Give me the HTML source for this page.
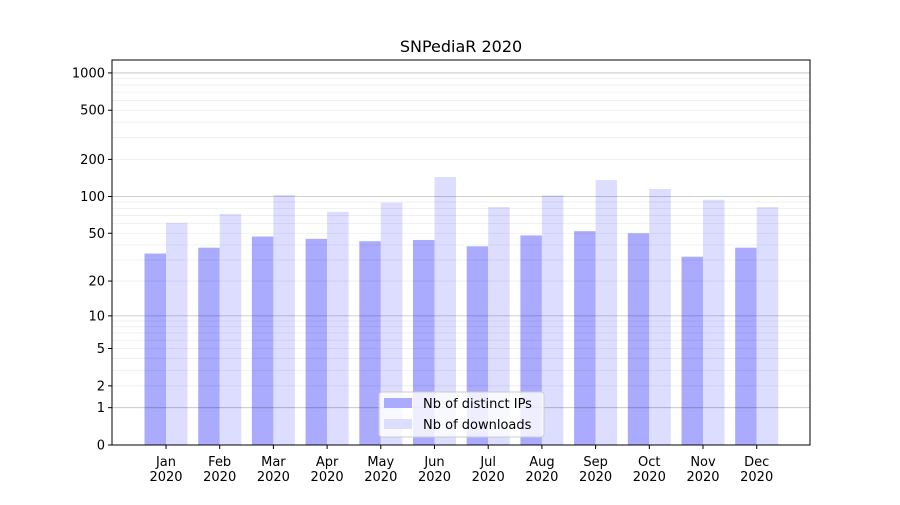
<!DOCTYPE html>
<html><head><meta charset="utf-8"><style>
body{margin:0;background:#fff;font-family:"Liberation Sans","DejaVu Sans",sans-serif;}
svg text{font-family:"DejaVu Sans","Liberation Sans",sans-serif;}
</style></head><body>
<svg id="chart" width="900" height="500" xmlns="http://www.w3.org/2000/svg">
<rect width="900" height="500" fill="#fff"/>
<text x="461" y="52" text-anchor="middle" font-size="16" fill="#000">SNPediaR 2020</text>
<g id="bars"></g><g id="grid"></g><g id="axes"></g>
</svg>
<script>
const months=["Jan","Feb","Mar","Apr","May","Jun","Jul","Aug","Sep","Oct","Nov","Dec"];
const distinctIPs=[34,38,47,45,43,44,39,48,52,50,32,38];
const downloads=[61,72,103,75,89,144,82,102,136,115,94,82];
const tickValues=[0,1,2,5,10,20,50,100,200,500,1000];
const NS="http://www.w3.org/2000/svg";
const L=112,R=810,T=60,B=445;
function y(v){return B-124*Math.log10(v+1);}
function xc(i){return 166+i*53.7;}
function mk(tag,attrs,parent){const e=document.createElementNS(NS,tag);for(const k in attrs)e.setAttribute(k,attrs[k]);parent.appendChild(e);return e;}
const grid=document.getElementById('grid'),bars=document.getElementById('bars'),axes=document.getElementById('axes');
[1,10,100].forEach(d=>{for(let m=2;m<=9;m++){const v=m*d;const g=mk('line',{x1:L,x2:R,y1:y(v),y2:y(v),stroke:'#000','stroke-opacity':0.07,'stroke-width':0.8},grid);

}});
[1,10,100,1000].forEach(v=>{const g=mk('line',{x1:L,x2:R,y1:y(v),y2:y(v),stroke:'#000','stroke-opacity':0.25,'stroke-width':0.8},grid);

});
const bw=21.5;
months.forEach((m,i)=>{
 const a=mk('rect',{x:xc(i)-bw,y:y(distinctIPs[i]),width:bw,height:B-y(distinctIPs[i]),fill:'#aaaaff'},bars);
 
 
 const b=mk('rect',{x:xc(i),y:y(downloads[i]),width:bw,height:B-y(downloads[i]),fill:'#ddddff'},bars);
 
 
 mk('line',{x1:xc(i),x2:xc(i),y1:B,y2:B+4,stroke:'#000'},axes);
 const t1=mk('text',{x:xc(i),y:B+21,'text-anchor':'middle','font-size':13},axes);t1.textContent=m;
 
 
 const t2=mk('text',{x:xc(i),y:B+36,'text-anchor':'middle','font-size':13},axes);t2.textContent='2020';
 
 
});
tickValues.forEach(v=>{
 mk('line',{x1:L-4,x2:L,y1:y(v),y2:y(v),stroke:'#000'},axes);
 const t=mk('text',{x:L-7,y:y(v)+4.5,'text-anchor':'end','font-size':13},axes);t.textContent=v;
 
 
});
const fr=mk('rect',{x:L,y:T,width:R-L,height:B-T,fill:'none',stroke:'#000','stroke-width':1},axes);


const lg=mk('g',{},axes);


mk('rect',{x:379,y:392,width:165,height:45,rx:3,fill:'#fff','fill-opacity':0.8,stroke:'#ccc'},lg);
mk('rect',{x:384,y:398,width:28,height:10,fill:'#aaaaff'},lg);
mk('rect',{x:384,y:419,width:28,height:10,fill:'#ddddff'},lg);
const l1=mk('text',{x:423,y:408,'font-size':13},lg);l1.textContent='Nb of distinct IPs';


const l2=mk('text',{x:423,y:429,'font-size':13},lg);l2.textContent='Nb of downloads';


</script>
</body></html>
